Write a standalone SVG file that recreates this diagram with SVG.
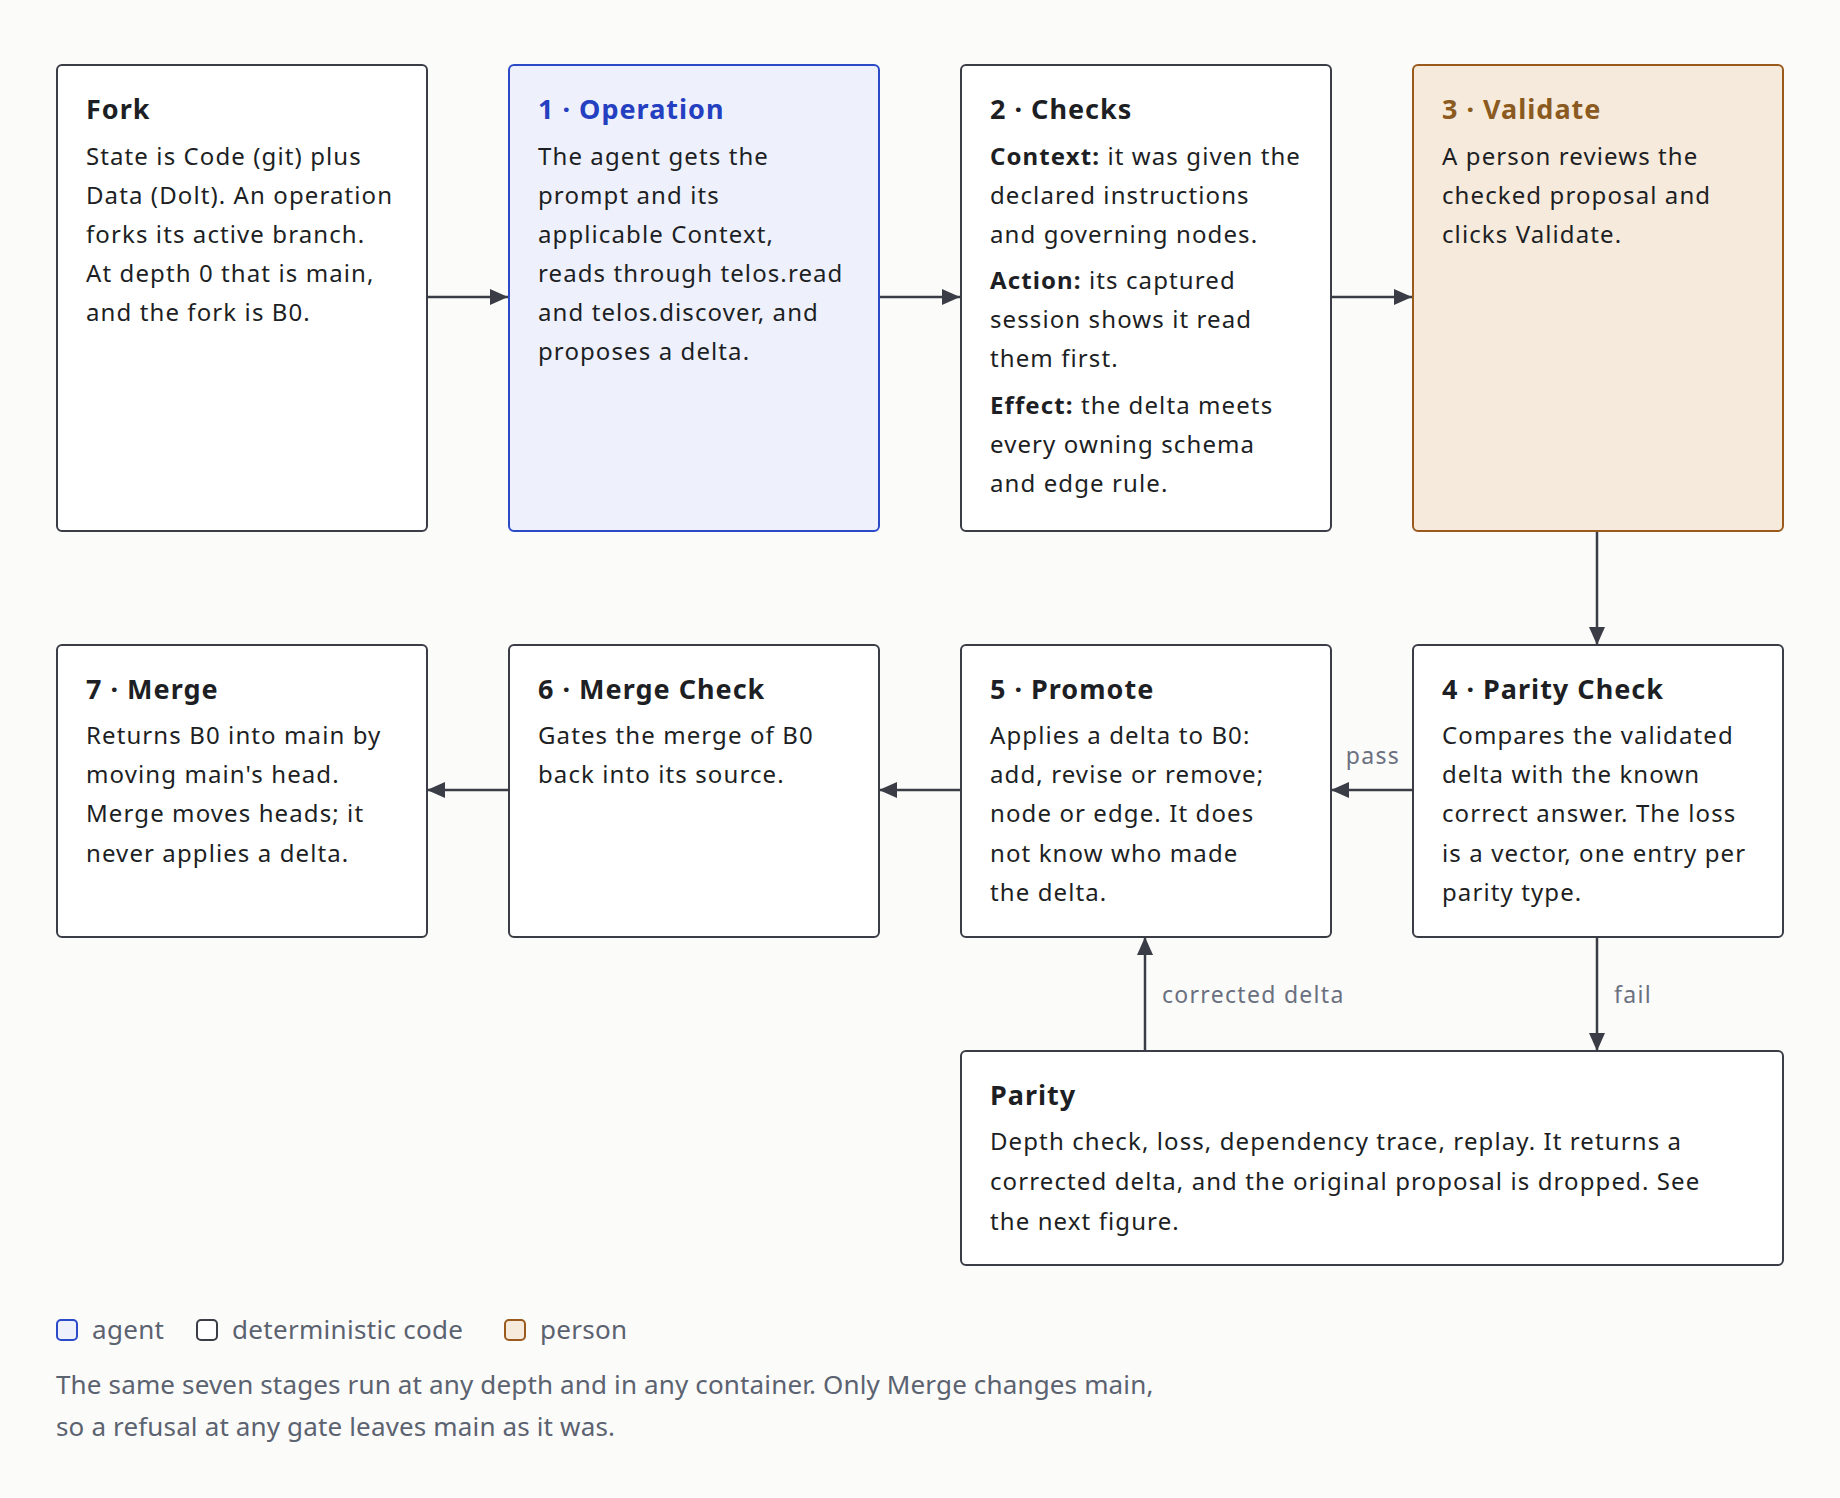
<svg xmlns="http://www.w3.org/2000/svg" width="1840" height="1498" viewBox="0 0 1840 1498">
<style>
text{font-family:"Noto Sans","Liberation Sans",sans-serif;fill:#1d1f24}
.t{font-size:27px;font-weight:700;letter-spacing:1px}
.b{font-size:24px;letter-spacing:1.1px}
.bb{font-weight:700}
.box{fill:#fff;stroke:#3a3d45;stroke-width:2}
.agent{fill:#eef1fc;stroke:#2a4ac8}
.person{fill:#f6eadc;stroke:#9a5a1e}
.ln{stroke:#3a3d45;stroke-width:2.5;fill:none;marker-end:url(#ah2)}
.lbl{font-size:23px;fill:#6a7080;letter-spacing:1.3px}
.leg{font-size:26px;fill:#5b6270;letter-spacing:0.3px}
</style>
<defs><marker id="ah2" markerWidth="18" markerHeight="16" refX="18" refY="8" orient="auto" markerUnits="userSpaceOnUse"><path d="M0,0 L18,8 L0,16 z" fill="#3a3d45"/></marker></defs>
<rect width="1840" height="1498" fill="#fbfbf9"/>
<g id="connectors">
<line class="ln" x1="427" y1="297" x2="508" y2="297"/>
<line class="ln" x1="879" y1="297" x2="960" y2="297"/>
<line class="ln" x1="1331" y1="297" x2="1412" y2="297"/>
<line class="ln" x1="1597" y1="531" x2="1597" y2="645"/>
<line class="ln" x1="1412" y1="790" x2="1331" y2="790"/>
<line class="ln" x1="960" y1="790" x2="879" y2="790"/>
<line class="ln" x1="508" y1="790" x2="427" y2="790"/>
<line class="ln" x1="1597" y1="937" x2="1597" y2="1051"/>
<line class="ln" x1="1145" y1="1051" x2="1145" y2="937"/>
<text class="lbl" x="1373" y="764" text-anchor="middle">pass</text>
<text class="lbl" x="1162" y="1003">corrected delta</text>
<text class="lbl" x="1614" y="1003">fail</text>
</g>
<g id="fork"><rect class="box" x="57" y="65" width="370" height="466" rx="5"/>
<text class="t" x="86" y="119">Fork</text>
<text class="b" x="86" y="165">State is Code (git) plus</text>
<text class="b" x="86" y="204">Data (Dolt). An operation</text>
<text class="b" x="86" y="243">forks its active branch.</text>
<text class="b" x="86" y="282">At depth 0 that is main,</text>
<text class="b" x="86" y="321">and the fork is B0.</text></g>
<g id="operation"><rect class="box agent" x="509" y="65" width="370" height="466" rx="5"/>
<text class="t" x="538" y="119" style="fill:#2440c0">1 · Operation</text>
<text class="b" x="538" y="165">The agent gets the</text>
<text class="b" x="538" y="204">prompt and its</text>
<text class="b" x="538" y="243">applicable Context,</text>
<text class="b" x="538" y="282">reads through telos.read</text>
<text class="b" x="538" y="321">and telos.discover, and</text>
<text class="b" x="538" y="360">proposes a delta.</text></g>
<g id="checks"><rect class="box" x="961" y="65" width="370" height="466" rx="5"/>
<text class="t" x="990" y="119">2 · Checks</text>
<text class="b" x="990" y="165"><tspan class="bb">Context:</tspan> it was given the</text>
<text class="b" x="990" y="204">declared instructions</text>
<text class="b" x="990" y="243">and governing nodes.</text>
<text class="b" x="990" y="289"><tspan class="bb">Action:</tspan> its captured</text>
<text class="b" x="990" y="328">session shows it read</text>
<text class="b" x="990" y="367">them first.</text>
<text class="b" x="990" y="414"><tspan class="bb">Effect:</tspan> the delta meets</text>
<text class="b" x="990" y="453">every owning schema</text>
<text class="b" x="990" y="492">and edge rule.</text></g>
<g id="validate"><rect class="box person" x="1413" y="65" width="370" height="466" rx="5"/>
<text class="t" x="1442" y="119" style="fill:#8a5a20">3 · Validate</text>
<text class="b" x="1442" y="165">A person reviews the</text>
<text class="b" x="1442" y="204">checked proposal and</text>
<text class="b" x="1442" y="243">clicks Validate.</text></g>
<g id="merge"><rect class="box" x="57" y="645" width="370" height="292" rx="5"/>
<text class="t" x="86" y="699">7 · Merge</text>
<text class="b" x="86" y="744">Returns B0 into main by</text>
<text class="b" x="86" y="783">moving main's head.</text>
<text class="b" x="86" y="822">Merge moves heads; it</text>
<text class="b" x="86" y="862">never applies a delta.</text></g>
<g id="mergecheck"><rect class="box" x="509" y="645" width="370" height="292" rx="5"/>
<text class="t" x="538" y="699">6 · Merge Check</text>
<text class="b" x="538" y="744">Gates the merge of B0</text>
<text class="b" x="538" y="783">back into its source.</text></g>
<g id="promote"><rect class="box" x="961" y="645" width="370" height="292" rx="5"/>
<text class="t" x="990" y="699">5 · Promote</text>
<text class="b" x="990" y="744">Applies a delta to B0:</text>
<text class="b" x="990" y="783">add, revise or remove;</text>
<text class="b" x="990" y="822">node or edge. It does</text>
<text class="b" x="990" y="862">not know who made</text>
<text class="b" x="990" y="901">the delta.</text></g>
<g id="paritycheck"><rect class="box" x="1413" y="645" width="370" height="292" rx="5"/>
<text class="t" x="1442" y="699">4 · Parity Check</text>
<text class="b" x="1442" y="744">Compares the validated</text>
<text class="b" x="1442" y="783">delta with the known</text>
<text class="b" x="1442" y="822">correct answer. The loss</text>
<text class="b" x="1442" y="862">is a vector, one entry per</text>
<text class="b" x="1442" y="901">parity type.</text></g>
<g id="parity"><rect class="box" x="961" y="1051" width="822" height="214" rx="5"/>
<text class="t" x="990" y="1105">Parity</text>
<text class="b" x="990" y="1150">Depth check, loss, dependency trace, replay. It returns a</text>
<text class="b" x="990" y="1190">corrected delta, and the original proposal is dropped. See</text>
<text class="b" x="990" y="1230">the next figure.</text></g>
<g id="legend">
<rect x="57" y="1320" width="20" height="20" rx="4" fill="#eef1fc" stroke="#2a4ac8" stroke-width="2"/>
<text class="leg" x="92" y="1339">agent</text>
<rect x="197" y="1320" width="20" height="20" rx="4" fill="#fff" stroke="#3a3d45" stroke-width="2"/>
<text class="leg" x="232" y="1339">deterministic code</text>
<rect x="505" y="1320" width="20" height="20" rx="4" fill="#f6eadc" stroke="#9a5a1e" stroke-width="2"/>
<text class="leg" x="540" y="1339">person</text>
<text class="leg" x="56" y="1394" style="letter-spacing:0.15px">The same seven stages run at any depth and in any container. Only Merge changes main,</text>
<text class="leg" x="56" y="1436" style="letter-spacing:0.15px">so a refusal at any gate leaves main as it was.</text>
</g>
</svg>
